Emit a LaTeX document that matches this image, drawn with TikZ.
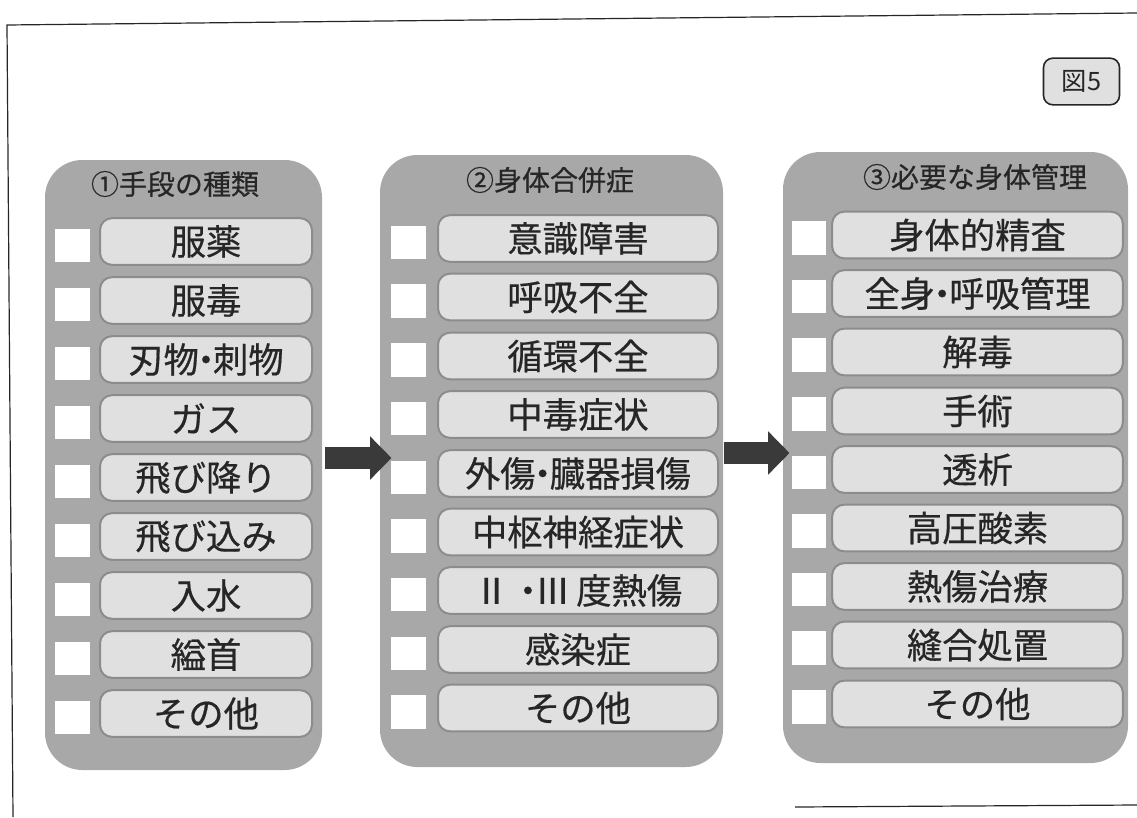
\documentclass[tikz,border=0pt]{standalone}
\usepackage{fontspec}
\setmainfont{Noto Sans CJK JP}
\newfontfamily\boldjp[FakeBold=0.5]{Noto Sans CJK JP}
\usetikzlibrary{arrows.meta,calc}

\definecolor{panelgray}{RGB}{168,168,168}
\definecolor{itemgray}{RGB}{224,224,224}
\definecolor{itemedge}{RGB}{140,140,140}
\definecolor{inkgray}{RGB}{38,38,38}
\definecolor{arrowgray}{RGB}{58,58,58}

\newcommand{\mdot}{\kern-0.3em・\kern-0.3em}

\tikzset{every picture/.style={line width=0.75pt}}
\tikzset{
  panel/.style={fill=panelgray, rounded corners=28pt, inner sep=0pt},
  head/.style={inner sep=0pt, text=inkgray, font=\boldjp\fontsize{21}{24}\selectfont},
  chk/.style={fill=white, minimum width=26pt, minimum height=25pt, inner sep=0pt},
  item/.style={draw=itemedge, line width=1.5pt, fill=itemgray, rounded corners=9pt,
    minimum height=35pt, inner sep=0pt, text=inkgray, font=\boldjp\fontsize{26.5}{29}\selectfont},
  itemA/.style={item, minimum width=159pt},
  itemB/.style={item, minimum width=210pt},
  itemC/.style={item, minimum width=218pt},
  bigarrow/.style={draw=arrowgray, line width=16.5pt, -{Triangle[width=31.5pt,length=16pt]}},
  figtag/.style={draw=inkgray, line width=1.2pt, fill=itemgray, rounded corners=7pt,
    minimum width=57pt, minimum height=35pt, inner sep=0pt, text=inkgray, font=\fontsize{19}{21}\selectfont}
}

\begin{document}
\begin{tikzpicture}[x=0.75pt,y=0.75pt,yscale=-1,xscale=1]
\useasboundingbox (0,0) rectangle (1137,817);

%Straight Lines (frame)
\draw [color=inkgray, line width=0.9pt] (13,817) -- (7,25) -- (1137,13) ;
\draw [color=inkgray, line width=0.9pt] (795,807) -- (1137,805) ;

% Figure tag
\node [figtag] (tag) at (1081.5,81.5) {図5};

%Shape: Panels
\node [panel, minimum width=207.75pt, minimum height=457.5pt] (pA) at (183.5,465) {};
\node [panel, minimum width=257.25pt, minimum height=459pt] (pB) at (551.5,461) {};
\node [panel, minimum width=258.75pt, minimum height=458.25pt] (pC) at (955.5,457.5) {};

% Text Node (headers)
\node [head] (hA) at (175,184) {①手段の種類};
\node [head] (hB) at (550,180) {②身体合併症};
\node [head] (hC) at (975,177) {③必要な身体管理};

% Panel 1
\node [chk] (cA1) at (72.5,245.5) {};  \node [itemA] (tA1) at (206,241.5) {服薬};
\node [chk] (cA2) at (72.5,304.5) {};  \node [itemA] (tA2) at (206,300.5) {服毒};
\node [chk] (cA3) at (72.5,363.5) {};  \node [itemA] (tA3) at (206,359.5) {刃物\mdot 刺物};
\node [chk] (cA4) at (72.5,422.5) {};  \node [itemA] (tA4) at (206,418.5) {ガス};
\node [chk] (cA5) at (72.5,481.5) {};  \node [itemA] (tA5) at (206,477.5) {飛び降り};
\node [chk] (cA6) at (72.5,540.5) {};  \node [itemA] (tA6) at (206,536.5) {飛び込み};
\node [chk] (cA7) at (72.5,599.5) {};  \node [itemA] (tA7) at (206,595.5) {入水};
\node [chk] (cA8) at (72.5,658.5) {};  \node [itemA] (tA8) at (206,654.5) {縊首};
\node [chk] (cA9) at (72.5,717.5) {};  \node [itemA] (tA9) at (206,713.5) {その他};

% Panel 2
\node [chk] (cB1) at (408.5,242.5) {};  \node [itemB] (tB1) at (578,238.5) {意識障害};
\node [chk] (cB2) at (408.5,301) {};    \node [itemB] (tB2) at (578,297) {呼吸不全};
\node [chk] (cB3) at (408.5,360) {};    \node [itemB] (tB3) at (578,356) {循環不全};
\node [chk] (cB4) at (408.5,418.5) {};  \node [itemB] (tB4) at (578,414.5) {中毒症状};
\node [chk] (cB5) at (408.5,477.5) {};  \node [itemB] (tB5) at (578,473.5) {外傷\mdot 臓器損傷};
\node [chk] (cB6) at (408.5,536) {};    \node [itemB] (tB6) at (578,532) {中枢神経症状};
\node [chk] (cB7) at (408.5,594.5) {};  \node [itemB] (tB7) at (578,590.5) {Ⅱ\,\,\mdot Ⅲ\,度熱傷};
\node [chk] (cB8) at (408.5,653.5) {};  \node [itemB] (tB8) at (578,649.5) {感染症};
\node [chk] (cB9) at (408.5,712) {};    \node [itemB] (tB9) at (578,708) {その他};

% Panel 3
\node [chk] (cC1) at (809,238) {};    \node [itemC] (tC1) at (977.5,235) {身体的精査};
\node [chk] (cC2) at (809,296.5) {};  \node [itemC] (tC2) at (977.5,293.5) {全身\mdot 呼吸管理};
\node [chk] (cC3) at (809,355) {};    \node [itemC] (tC3) at (977.5,352) {解毒};
\node [chk] (cC4) at (809,414) {};    \node [itemC] (tC4) at (977.5,411) {手術};
\node [chk] (cC5) at (809,472.5) {};  \node [itemC] (tC5) at (977.5,469.5) {透析};
\node [chk] (cC6) at (809,531) {};    \node [itemC] (tC6) at (977.5,528) {高圧酸素};
\node [chk] (cC7) at (809,589.5) {};  \node [itemC] (tC7) at (977.5,586.5) {熱傷治療};
\node [chk] (cC8) at (809,648) {};    \node [itemC] (tC8) at (977.5,645) {縫合処置};
\node [chk] (cC9) at (809,707) {};    \node [itemC] (tC9) at (977.5,704) {その他};

%Arrows between panels
\draw [bigarrow] ($(pA.east)+(2,-7)$) -- ($(pB.west |- pA.east)+(12,-7)$) ;
\draw [bigarrow] ($(pB.east)+(0,-8)$) -- ($(pC.west |- pB.east)+(7,-8)$) ;

\end{tikzpicture}
\end{document}
